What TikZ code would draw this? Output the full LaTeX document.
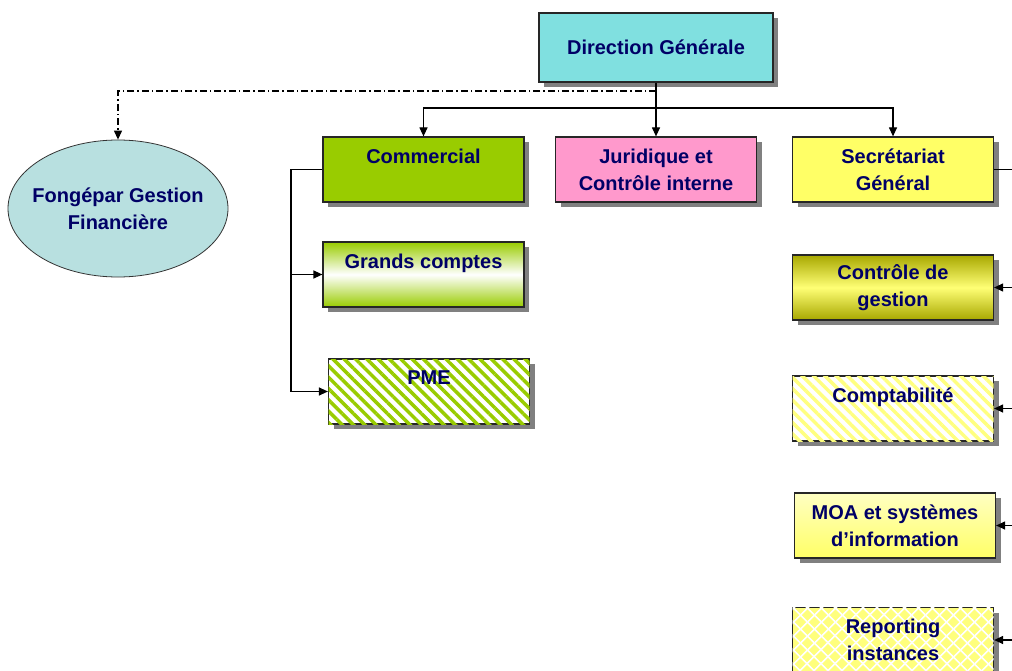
\documentclass[tikz,border=0pt]{standalone}
\usepackage{fontspec}
\setmainfont{Liberation Sans}
\usetikzlibrary{shapes.geometric,shadows,patterns.meta,arrows.meta}
\definecolor{navytext}{HTML}{000066}
\definecolor{dgcyan}{HTML}{80E0E0}
\definecolor{fgfblue}{HTML}{B8E0E0}
\definecolor{comgreen}{HTML}{99CC00}
\definecolor{jurpink}{HTML}{FF99CC}
\definecolor{sgyellow}{HTML}{FFFF66}
\definecolor{cgolive}{HTML}{A8A800}
\definecolor{hatchyellow}{HTML}{FFFF80}
\tikzset{
  box/.style={draw=black!85, line width=1.2pt, minimum width=201pt, minimum height=65pt,
    inner sep=0pt, align=center, text=navytext,
    font=\fontsize{20}{27}\selectfont\bfseries,
    drop shadow={shadow xshift=5pt, shadow yshift=-5pt, fill=black!50, opacity=1}},
  arr/.style={line width=1.2pt, -{Triangle[length=9pt,width=8pt]}},
  dashdot/.style={line width=1.1pt, dash pattern=on 7pt off 3pt on 1.5pt off 3pt}
}
\begin{document}
\begin{tikzpicture}[x=1pt,y=-1pt]
  \clip (0,0) rectangle (1012,671);
  \fill[white] (0,0) rectangle (1012,671);
  % top
  \node[box, fill=dgcyan, minimum width=234pt, minimum height=69pt] (dg) at (656,47.5) {Direction Générale};
  \node[ellipse, draw=black!80, line width=0.8pt, fill=fgfblue, minimum width=220pt, minimum height=137pt,
    inner xsep=-8pt, inner ysep=0pt, align=center, text=navytext, font=\fontsize{20}{27}\selectfont\bfseries]
    (fgf) at (118,208.5) {Fongépar Gestion\\Financière};
  % second level
  \node[box, fill=comgreen] (com) at (423.5,169.5) {Commercial\\~};
  \node[box, fill=jurpink] (jur) at (656,169.5) {Juridique et\\Contrôle interne};
  \node[box, fill=sgyellow] (sg) at (893,169.5) {Secrétariat\\Général};
  % commercial
  \node[box, top color=comgreen, bottom color=comgreen, middle color=white] (gc) at (423.5,274.5) {Grands comptes\\~};
  \node[box, fill=white, postaction={pattern={Lines[angle=-45,distance=8pt,line width=3.5pt]}, pattern color=comgreen}] (pme) at (429,391.5) {PME\\~};
  % secretariat
  \node[box, top color=cgolive, bottom color=cgolive, middle color=sgyellow!90] (cg) at (893,287.5) {Contrôle de\\gestion};
  \node[box, fill=white, postaction={pattern={Lines[angle=-45,distance=8pt,line width=3.5pt]}, pattern color=hatchyellow}] (cpt) at (893,408.5) {Comptabilité\\~};
  \node[box, top color=sgyellow!40, bottom color=sgyellow] (moa) at (895,525.5) {MOA et systèmes\\d’information};
  \node[box, fill=sgyellow!85, postaction={pattern={Lines[angle=45,distance=10.5pt,line width=2pt]}, pattern color=white},
    postaction={pattern={Lines[angle=-45,distance=10.5pt,line width=2pt]}, pattern color=white}] (rep) at (893,640) {Reporting\\instances};
  % connectors
  \coordinate (ddsplit) at (656,91);
  \coordinate (bus) at (656,108);
  \draw[dashdot, -{Triangle[length=9pt,width=8pt]}] (ddsplit) -| (fgf.north);
  \draw[arr] (dg.south) -- (jur.north);
  \draw[arr] (bus) -| (com.north);
  \draw[arr] (bus) -| (sg.north);
  \coordinate (comleft) at (291,169.5);
  \draw[line width=1.2pt] (com.west) -- (comleft);
  \draw[arr] (comleft) |- (gc.west);
  \draw[arr] (comleft) |- (pme.west);
  \coordinate (sgbus) at (1020,169.5);
  \draw[line width=1.2pt] (sg.east) -- (sgbus);
  \draw[arr] (sgbus) |- (cg.east);
  \draw[arr] (sgbus) |- (cpt.east);
  \draw[arr] (sgbus) |- (moa.east);
  \draw[arr] (sgbus) |- (rep.east);
\end{tikzpicture}
\end{document}
